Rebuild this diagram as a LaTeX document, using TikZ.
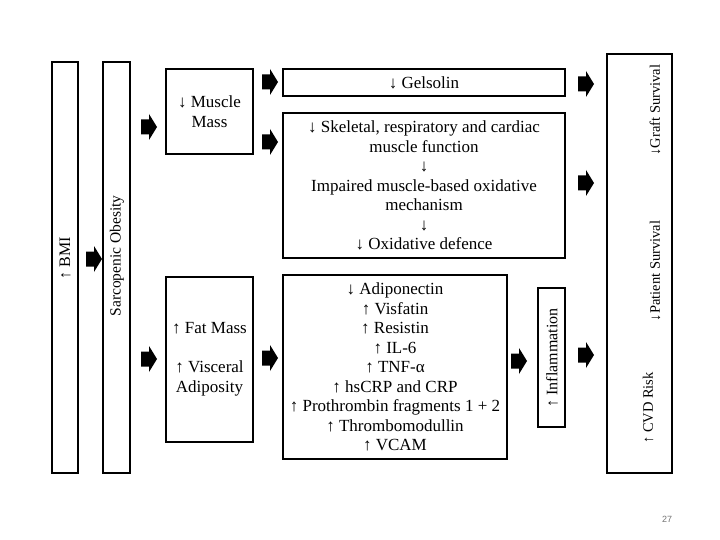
\documentclass[tikz,border=0pt]{standalone}
\usepackage{fontspec}
\setmainfont{Liberation Serif}
\newfontfamily\pgnumfont{Liberation Sans}
\begin{document}
\begin{tikzpicture}[x=1pt,y=-1pt,
  box/.style={draw=black, line width=1.8pt, fill=white, inner sep=0pt, outer sep=0pt},
  txt/.style={font=\fontsize{17}{19.5}\selectfont, align=center, inner sep=0pt},
  vtxt/.style={font=\fontsize{16}{19}\selectfont, inner sep=0pt, rotate=90},
  rtxt/.style={font=\fontsize{14.5}{17}\selectfont, inner sep=0pt, rotate=90},
  barrow/.pic={\fill[black] (0,-7.5) -- (8,-7.5) -- (8,-13) -- (16,0) -- (8,13) -- (8,7.5) -- (0,7.5) -- cycle;}]
\useasboundingbox (0,0) rectangle (720,540);

% boxes
\node[box, minimum width=26, minimum height=411] (bmi) at (65,267.5) {};
\node[vtxt] (bmit) at (65,258) {↑ BMI};
\node[box, minimum width=27, minimum height=411] (so) at (116.5,267.5) {};
\node[vtxt, font=\fontsize{15.5}{19}\selectfont] (sot) at (117,256) {Sarcopenic Obesity};

\node[box, minimum width=87, minimum height=85, txt] (mm) at (209.5,111.5) {↓ Muscle\\Mass};
\node[box, minimum width=87, minimum height=165, txt] (fat) at (209.5,359.5) {↑ Fat Mass\\[19.5pt]↑ Visceral\\Adiposity};

\node[box, minimum width=282, minimum height=27, txt] (gel) at (424,82.5) {↓ Gelsolin};
\node[box, minimum width=282, minimum height=145, txt] (top) at (424,185.5)
  {↓ Skeletal, respiratory and cardiac\\muscle function\\↓\\Impaired muscle-based oxidative\\mechanism\\↓\\↓ Oxidative defence};

\node[box, minimum width=224, minimum height=184, txt] (bot) at (395,367)
  {↓ Adiponectin\\↑ Visfatin\\↑ Resistin\\↑ IL-6\\↑ TNF-α\\↑ hsCRP and CRP\\↑ Prothrombin fragments 1 + 2\\↑ Thrombomodullin\\↑ VCAM};

\node[box, minimum width=27, minimum height=139] (infl) at (551.5,357.5) {};
\node[vtxt] (inflt) at (552,358) {↑ Inflammation};

\node[box, minimum width=65, minimum height=419] (out) at (639.5,263.5) {};
\node[rtxt] (graft) at (655,110) {↓Graft Survival};
\node[rtxt] (pat) at (655,271) {↓Patient Survival};
\node[rtxt] (cvd) at (648,408) {↑ CVD Risk};

% block arrows
\pic at (86,259) {barrow};
\pic at (141,127) {barrow};
\pic at (141,359) {barrow};
\pic at (262,82) {barrow};
\pic at (262,142) {barrow};
\pic at (262,358) {barrow};
\pic at (511,361) {barrow};
\pic at (578,355) {barrow};
\pic at (578,84) {barrow};
\pic at (578,183) {barrow};

% page number
\node[font=\pgnumfont\fontsize{9}{10}\selectfont, text=black!55, inner sep=0pt] (pg) at (667,519) {27};
\end{tikzpicture}
\end{document}
